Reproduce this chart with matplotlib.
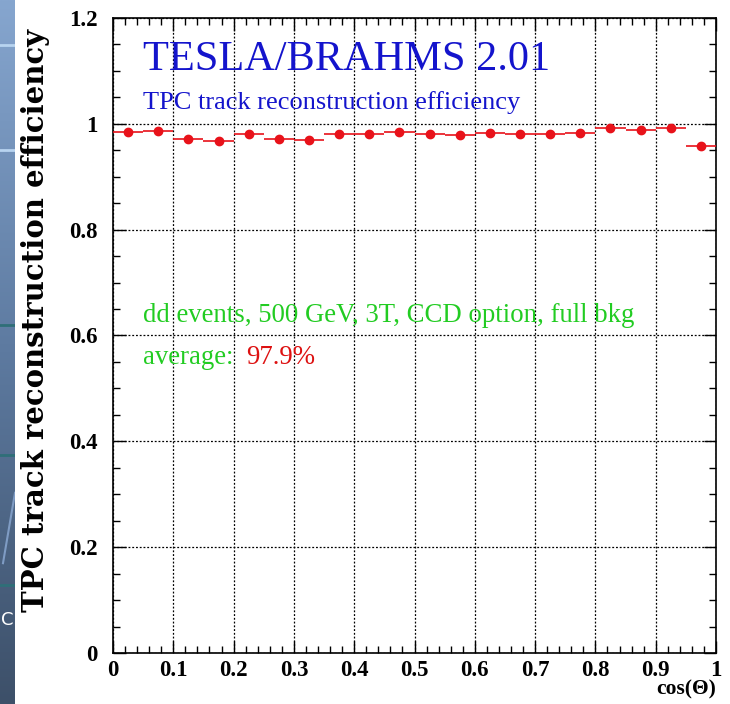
import numpy as np
import matplotlib
matplotlib.use("Agg")
import matplotlib.pyplot as plt
from matplotlib.ticker import MultipleLocator, FuncFormatter
from matplotlib.colors import LinearSegmentedColormap

# ---- data ----
bin_lo = [0.00, 0.05, 0.10, 0.15, 0.20, 0.25, 0.30, 0.35, 0.40, 0.45,
          0.50, 0.55, 0.60, 0.65, 0.70, 0.75, 0.80, 0.85, 0.90, 0.95]
efficiency = [0.984, 0.987, 0.972, 0.968, 0.980, 0.972, 0.969, 0.981, 0.981, 0.984,
              0.980, 0.979, 0.982, 0.981, 0.980, 0.983, 0.992, 0.989, 0.992, 0.959]
bin_width = 0.05
title_text = "TESLA/BRAHMS 2.01"
subtitle_text = "TPC track reconstruction efficiency"
info_text = "dd events, 500 GeV, 3T, CCD option, full bkg"
avg_label = "average:"
avg_value = "97.9%"
ylabel = "TPC track reconstruction efficiency"
xlabel = "cos(\u0398)"

serif = ["Liberation Serif", "DejaVu Serif"]
plt.rcParams["font.family"] = serif

W, H = 730, 704
fig = plt.figure(figsize=(W / 100, H / 100), dpi=100)
fig.patch.set_facecolor("white")

# slide background strip on left
bg = fig.add_axes([0, 0, 15 / W, 1])
grad = np.linspace(0, 1, 256).reshape(-1, 1)
cm = LinearSegmentedColormap.from_list("slide", ["#86a6cf", "#5d7aa0", "#3d5069"])
bg.imshow(grad, aspect="auto", cmap=cm, extent=[0, 1, 1, 0])
for yy, c in [(45, "#b8d4f0"), (150, "#b8d4f0"), (325, "#2f6f78"), (455, "#2f6f78"), (585, "#2f6f78")]:
    bg.axhline(yy / H, color=c, lw=2)
bg.plot([0.2, 1.0], [0.80, 0.70], color="#7f9cc4", lw=1.5)
bg.set_xlim(0, 1)
bg.set_ylim(1, 0)
bg.axis("off")
fig.text(0.5 / W, 1 - 620 / H, "C", color="white", fontsize=13, family="DejaVu Sans",
         ha="left", va="center")

ax = fig.add_axes([113 / W, 1 - 653 / H, (716 - 113) / W, (653 - 18) / H])
centers = np.array(bin_lo) + bin_width / 2
ax.errorbar(centers, efficiency, xerr=bin_width / 2, yerr=0.001, fmt="o",
            color="#e8121a", ms=6, elinewidth=1.2, capsize=0, zorder=3)

ax.set_xlim(0, 1)
ax.set_ylim(0, 1.2)
ax.xaxis.set_major_locator(MultipleLocator(0.1))
ax.xaxis.set_minor_locator(MultipleLocator(0.02))
ax.yaxis.set_major_locator(MultipleLocator(0.2))
ax.yaxis.set_minor_locator(MultipleLocator(0.05))
fmt = FuncFormatter(lambda v, p: "%g" % round(v, 3))
ax.xaxis.set_major_formatter(fmt)
ax.yaxis.set_major_formatter(fmt)
ax.tick_params(which="both", direction="in", top=True, right=True, width=1, color="black")
ax.tick_params(which="major", length=9)
ax.tick_params(axis="y", which="major", pad=11)
ax.tick_params(axis="x", which="major", pad=5)
ax.tick_params(which="minor", length=5)
for lab in ax.get_xticklabels() + ax.get_yticklabels():
    lab.set_fontweight("bold")
    lab.set_fontsize(16.5)
ax.grid(True, which="major", color="black", linestyle=(0, (1.5, 1.5)), linewidth=0.9)
for s in ax.spines.values():
    s.set_linewidth(1.2)

ax.set_ylabel(ylabel, fontsize=21, fontweight="bold", family=["DejaVu Serif"])
ax.yaxis.set_label_coords(-0.104, 0.523)
ax.text(1.0, -0.058, xlabel, transform=ax.transAxes, ha="right", va="center",
        fontsize=15.5, fontweight="bold")

ax.text(0.05, 0.935, title_text, transform=ax.transAxes, color="#1414cc",
        fontsize=30.5, va="center", ha="left")
ax.text(0.05, 0.867, subtitle_text, transform=ax.transAxes, color="#1414cc",
        fontsize=19, va="center", ha="left")
ax.text(0.05, 0.532, info_text, transform=ax.transAxes, color="#22cc22",
        fontsize=19.3, va="center", ha="left")
ax.text(0.05, 0.466, avg_label, transform=ax.transAxes, color="#22cc22",
        fontsize=19.3, va="center", ha="left")
ax.text(0.221, 0.466, avg_value, transform=ax.transAxes, color="#dd1111",
        fontsize=19.3, va="center", ha="left")

fig.savefig("out.png", dpi=100)
